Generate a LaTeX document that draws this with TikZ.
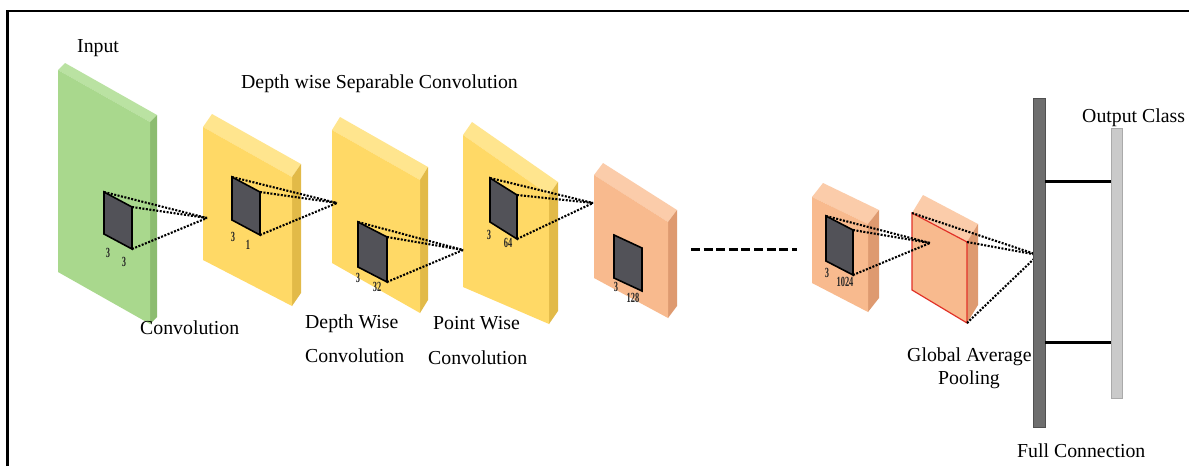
\documentclass[tikz,border=0pt]{standalone}
\usepackage{fontspec}
\setmainfont{Liberation Serif}
\usepackage{graphicx}
\usetikzlibrary{calc}
\definecolor{gfront}{RGB}{169,216,141}
\definecolor{gtop}{RGB}{186,226,162}
\definecolor{gside}{RGB}{140,188,112}
\definecolor{yfront}{RGB}{255,217,102}
\definecolor{ytop}{RGB}{255,229,142}
\definecolor{yside}{RGB}{226,186,72}
\definecolor{ofront}{RGB}{248,186,142}
\definecolor{otop}{RGB}{251,204,170}
\definecolor{oside}{RGB}{222,154,112}
\definecolor{kfill}{RGB}{82,82,88}
\definecolor{fcfill}{RGB}{110,110,110}
\definecolor{fcdraw}{RGB}{80,80,80}
\definecolor{ocfill}{RGB}{202,202,202}
\definecolor{ocdraw}{RGB}{170,170,170}
\definecolor{gapred}{RGB}{225,50,40}
\newcommand\slab[5]{%
  \fill[#3] (#1-tl) -- (#1-tr) -- ($(#1-tr)+#5$) -- ($(#1-tl)+#5$) -- cycle;
  \fill[#4] (#1-tr) -- (#1-br) -- ($(#1-br)+#5$) -- ($(#1-tr)+#5$) -- cycle;
  \fill[#2] (#1-tl) -- (#1-tr) -- (#1-br) -- (#1-bl) -- cycle;}
\newcommand\kernel[6]{%
  \coordinate (#1-tl) at (#2,#3);
  \coordinate (#1-tr) at (#2+#4,#3+#6);
  \coordinate (#1-br) at (#2+#4,#3+#6+#5);
  \coordinate (#1-bl) at (#2,#3+#5);
  \draw[kern] (#1-tl) -- (#1-tr) -- (#1-br) -- (#1-bl) -- cycle;}
\newcommand\dimtxt[1]{\scalebox{0.6}[1.0]{#1}}
\begin{document}
\begin{tikzpicture}[x=1pt,y=-1pt,
  lab/.style={font=\fontsize{19.8}{24}\selectfont, inner sep=0, anchor=base west},
  dimlab/.style={font=\fontsize{14}{14}\selectfont\bfseries, text=black!85, inner sep=0},
  kern/.style={fill=kfill, draw=black, line width=1.6pt, line join=miter},
  dotline/.style={line width=2.1pt, dash pattern=on 2pt off 1.5pt},
  dashline/.style={line width=3pt, dash pattern=on 9pt off 3.6pt},
  fcline/.style={line width=3pt},
  fcbar/.style={fill=fcfill, draw=fcdraw, line width=0.8pt, minimum width=12pt, minimum height=329pt, inner sep=0},
  ocbar/.style={fill=ocfill, draw=ocdraw, line width=0.8pt, minimum width=11pt, minimum height=270pt, inner sep=0}]
\useasboundingbox (0,0) rectangle (1189,466);
\fill[white] (0,0) rectangle (1189,466);
\draw[line width=2.5pt] (7.5,466) -- (7.5,11) -- (1189,11);

% slabs
\coordinate (g-tl) at (58,70); \coordinate (g-tr) at (150,122);
\coordinate (g-br) at (150,324); \coordinate (g-bl) at (58,272);
\slab{g}{gfront}{gtop}{gside}{(7,-7)}
\coordinate (y1-tl) at (203,127); \coordinate (y1-tr) at (292,177);
\coordinate (y1-br) at (292,306); \coordinate (y1-bl) at (203,260);
\slab{y1}{yfront}{ytop}{yside}{(9,-13)}
\coordinate (y2-tl) at (332,130); \coordinate (y2-tr) at (420,180);
\coordinate (y2-br) at (420,313); \coordinate (y2-bl) at (332,263);
\slab{y2}{yfront}{ytop}{yside}{(8,-13)}
\coordinate (y3-tl) at (463,135); \coordinate (y3-tr) at (549,195);
\coordinate (y3-br) at (549,324); \coordinate (y3-bl) at (463,287);
\slab{y3}{yfront}{ytop}{yside}{(9,-13)}
\coordinate (o1-tl) at (594,175); \coordinate (o1-tr) at (668,222);
\coordinate (o1-br) at (668,318); \coordinate (o1-bl) at (594,278);
\slab{o1}{ofront}{otop}{oside}{(9,-12)}
\coordinate (o2-tl) at (812,197); \coordinate (o2-tr) at (868,224);
\coordinate (o2-br) at (868,312); \coordinate (o2-bl) at (812,283);
\slab{o2}{ofront}{otop}{oside}{(11,-14)}
\coordinate (gap-tl) at (912,213); \coordinate (gap-tr) at (967,242);
\coordinate (gap-br) at (967,323); \coordinate (gap-bl) at (912,290);
\slab{gap}{ofront}{otop}{oside}{(11,-18)}
\draw[gapred, line width=1.2pt] (gap-tl) -- (gap-tr) -- (gap-br) -- (gap-bl) -- cycle;

% kernels
\kernel{k0}{104}{192}{28}{42}{15}
\kernel{k1}{232}{177}{28}{43}{15}
\kernel{k2}{358}{222}{29}{45}{15}
\kernel{k3}{490}{178}{27}{44}{17}
\kernel{k4}{614}{235}{28}{43}{13}
\kernel{k5}{826}{216}{27}{45}{14}

% kernel size labels
\node[dimlab] (d0a) at (108,253) {\dimtxt{3}};
\node[dimlab] (d0b) at (124,262) {\dimtxt{3}};
\node[dimlab] (d1a) at (233,237) {\dimtxt{3}};
\node[dimlab] (d1b) at (248,245) {\dimtxt{1}};
\node[dimlab] (d2a) at (358,278) {\dimtxt{3}};
\node[dimlab] (d2b) at (377,287) {\dimtxt{32}};
\node[dimlab] (d3a) at (489,235) {\dimtxt{3}};
\node[dimlab] (d3b) at (508,243) {\dimtxt{64}};
\node[dimlab] (d4a) at (616,287) {\dimtxt{3}};
\node[dimlab] (d4b) at (633,298) {\dimtxt{128}};
\node[dimlab] (d5a) at (827,273) {\dimtxt{3}};
\node[dimlab] (d5b) at (845,282) {\dimtxt{1024}};

% apex points
\coordinate (a1) at (207,218);
\coordinate (a2) at (337,203);
\coordinate (a3) at (463,250);
\coordinate (a4) at (593,203);
\coordinate (a5) at (930,243);
\coordinate (a6) at (1038,255);

% dotted projection lines
\foreach \k/\a in {k0/a1,k1/a2,k2/a3,k3/a4,k5/a5}{
  \draw[dotline] (\k-tl) -- (\a);
  \draw[dotline] (\k-tr) -- (\a);
  \draw[dotline] (\k-br) -- (\a);
}
\draw[dotline] (gap-tl) -- (a6);
\draw[dotline] (gap-tr) -- (a6);
\draw[dotline] (gap-br) -- (a6);

% dashed continuation
\coordinate (dA) at (691,249);
\coordinate (dB) at (797,249);
\draw[dashline] (dA) -- (dB);

% full connection and output bars
\node[fcbar] (fc) at (1039,262.5) {};
\node[ocbar] (oc) at (1116.5,263) {};
\coordinate (r1) at (1080,181);
\coordinate (r2) at (1080,342);
\draw[fcline] (fc.east |- r1) -- (oc.west |- r1);
\draw[fcline] (fc.east |- r2) -- (oc.west |- r2);

% labels
\node[lab] (tin) at (77,52) {Input};
\node[lab] (tdws) at (241,88) {Depth wise Separable Convolution};
\node[lab] (tconv) at (140,334) {Convolution};
\node[lab] (tdw1) at (305,328) {Depth Wise};
\node[lab] (tdw2) at (305,362) {Convolution};
\node[lab] (tpw1) at (433,329) {Point Wise};
\node[lab] (tpw2) at (428,364) {Convolution};
\node[lab] (tgap1) at (907,361) {Global Average};
\node[lab] (tgap2) at (938,384) {Pooling};
\node[lab] (tfc) at (1017,457) {Full Connection};
\node[lab] (tout) at (1082,122) {Output Class};
\end{tikzpicture}
\end{document}
